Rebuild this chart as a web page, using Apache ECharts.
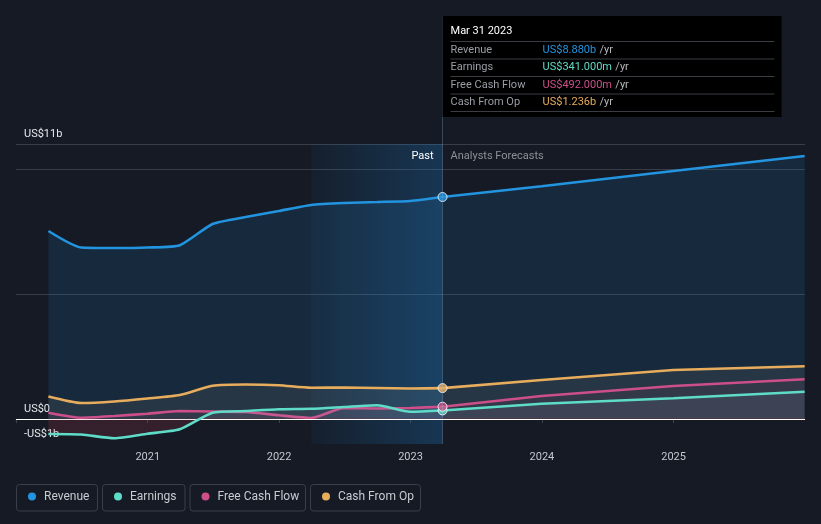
<!DOCTYPE html>
<html><head><meta charset="utf-8">
<script src="https://cdn.jsdelivr.net/npm/echarts@6/dist/echarts.min.js"></script>
<style>html,body{margin:0;padding:0;background:#151a24;}#c{width:821px;height:524px;}</style>
</head><body><div id="c"></div>
<script>
// ---- data (US$ billions) ----
const pastDates = ['2020-03-31','2020-06-30','2020-09-30','2020-12-31','2021-03-31','2021-06-30','2021-09-30','2021-12-31','2022-03-31','2022-06-30','2022-09-30','2022-12-31','2023-03-31'];
const forecastDates = ['2023-12-31','2024-12-31','2025-12-31'];
const revenuePast = [7.52, 6.86, 6.84, 6.86, 6.95, 7.80, 8.08, 8.32, 8.56, 8.64, 8.68, 8.72, 8.88];
const revenueForecast = [9.31, 9.92, 10.52];
const earningsPast = [-0.60, -0.62, -0.77, -0.59, -0.41, 0.25, 0.32, 0.39, 0.41, 0.48, 0.55, 0.29, 0.341];
const earningsForecast = [0.61, 0.83, 1.09];
const fcfPast = [0.25, 0.05, 0.12, 0.21, 0.32, 0.30, 0.28, 0.15, 0.04, 0.44, 0.42, 0.44, 0.492];
const fcfForecast = [0.92, 1.32, 1.59];
const cfoPast = [0.90, 0.64, 0.70, 0.82, 0.96, 1.33, 1.38, 1.35, 1.25, 1.26, 1.24, 1.22, 1.236];
const cfoForecast = [1.56, 1.96, 2.11];
const yTickLabels = {'11': 'US$11b', '0': 'US$0', '-1': '-US$1b'};
const xTickLabels = ['2021', '2022', '2023', '2024', '2025'];
const seriesNames = ['Revenue', 'Earnings', 'Free Cash Flow', 'Cash From Op'];
const pastBandStart = '2022-03-31';

const COLORS = {rev:'#2394df', earn:'#5fdcc8', fcf:'#cc4f8a', cfo:'#e8ad5c'};
const FONT = 'Roboto, "Noto Sans", sans-serif';
const chart = echarts.init(document.getElementById('c'));
const last = pastDates.length - 1;
const lastDate = pastDates[last];

const zeroFrac = 418/524;
const earnArea = new echarts.graphic.LinearGradient(0,0,0,524,[
  {offset:0, color:'rgba(150,175,200,0.09)'},
  {offset:zeroFrac, color:'rgba(150,175,200,0.09)'},
  {offset:zeroFrac, color:'rgba(215,60,85,0.16)'},
  {offset:1, color:'rgba(215,60,85,0.16)'}], true);

function pair(name, color, past, fc, area, z){
  const style = {showSymbol:false, symbol:'none', lineStyle:{color, width:2.6}, itemStyle:{color},
    areaStyle:{color:area, opacity:1}, z, silent:true};
  return [
    Object.assign({type:'line', name, data: pastDates.map((d,i)=>[d, past[i]]), smooth:0.2}, style),
    Object.assign({type:'line', name: name + ' forecast', data: [[lastDate, past[last]]].concat(forecastDates.map((d,i)=>[d, fc[i]])), smooth:false}, style)
  ];
}

const rev = pair(seriesNames[0], COLORS.rev, revenuePast, revenueForecast, 'rgba(35,148,223,0.13)', 2);
rev[0].markArea = {silent:true, itemStyle:{color:new echarts.graphic.LinearGradient(0,0,1,0,[
    {offset:0,color:'rgba(30,130,210,0.05)'},{offset:1,color:'rgba(30,130,210,0.27)'}])},
  data:[[{xAxis:pastBandStart},{xAxis:lastDate}]]};
rev[0].markLine = {silent:true, symbol:'none', label:{show:false}, lineStyle:{color:'#ffffff', width:1.2, type:'solid'},
  data:[{yAxis:0}], animation:false};

const series = [].concat(
  rev,
  pair(seriesNames[3], COLORS.cfo, cfoPast, cfoForecast, 'rgba(190,175,150,0.10)', 3),
  pair(seriesNames[2], COLORS.fcf, fcfPast, fcfForecast, 'rgba(208,80,140,0.07)', 4),
  pair(seriesNames[1], COLORS.earn, earningsPast, earningsForecast, earnArea, 5),
  [{type:'scatter', silent:true, z:10, symbolSize:9,
    itemStyle:{borderColor:'#ffffff', borderWidth:1},
    data:[
      {value:[lastDate, revenuePast[last]], itemStyle:{color:COLORS.rev}},
      {value:[lastDate, cfoPast[last]], itemStyle:{color:COLORS.cfo}},
      {value:[lastDate, earningsPast[last]], itemStyle:{color:COLORS.earn}},
      {value:[lastDate, fcfPast[last]], itemStyle:{color:COLORS.fcf}}
    ]}]
);

const gridColor = '#383d47';
const splitColors = [];
for (let v=-1; v<=11; v++) splitColors.push((v===5||v===10||v===11) ? gridColor : 'rgba(0,0,0,0)');

chart.setOption({
  backgroundColor:'#151a24',
  animation:false,
  textStyle:{fontFamily:FONT},
  grid:{left:16, right:16, top:144, bottom:80},
  xAxis:{type:'time', min:'2020-01-01', max:'2026-01-01', splitNumber:6,
    axisLine:{lineStyle:{color:'#3c424d'}}, axisTick:{show:true, length:4, lineStyle:{color:'#3c424d'}},
    splitLine:{show:false},
    axisLabel:{color:'#c5c9cf', fontSize:11, margin:8, fontFamily:FONT,
      formatter:v=>{const y=String(new Date(v).getFullYear()); return xTickLabels.indexOf(y)>=0 ? y : '';}}},
  yAxis:{type:'value', min:-1, max:11, interval:1,
    axisLine:{show:false}, axisTick:{show:false},
    splitLine:{show:true, lineStyle:{color:splitColors, width:1}},
    axisLabel:{inside:true, margin:8, verticalAlign:'bottom', padding:[0,0,4,0], color:'#e6e8eb', fontSize:11, fontFamily:FONT,
      formatter:v=>yTickLabels[String(v)]||''}},
  series
});

// ---- overlays positioned via the axes ----
const xNow = chart.convertToPixel({gridIndex:0}, [lastDate, 0])[0];
const months = ['Jan','Feb','Mar','Apr','May','Jun','Jul','Aug','Sep','Oct','Nov','Dec'];
const dp = lastDate.split('-');
const title = months[+dp[1]-1] + ' ' + (+dp[2]) + ' ' + dp[0];
const fmt = v => Math.abs(v) >= 1 ? 'US$' + v.toFixed(3) + 'b' : 'US$' + (v*1000).toFixed(3) + 'm';
const rows = [
  [seriesNames[0], fmt(revenuePast[last]), COLORS.rev],
  [seriesNames[1], fmt(earningsPast[last]), COLORS.earn],
  [seriesNames[2], fmt(fcfPast[last]), COLORS.fcf],
  [seriesNames[3], fmt(cfoPast[last]), COLORS.cfo]
];
const g = [];
g.push({type:'line', shape:{x1:xNow, y1:16, x2:xNow, y2:444}, style:{stroke:'rgba(160,190,220,0.28)', lineWidth:1}, z:20, silent:true});
const boxX = xNow, boxY = 16;
g.push({type:'rect', shape:{x:boxX, y:boxY, width:339, height:101}, style:{fill:'#000000'}, z:30, silent:true});
g.push({type:'text', x:boxX+8, y:boxY+15, style:{text:title, fill:'#ffffff', font:'11px '+FONT, textVerticalAlign:'middle'}, z:31});
const sepY = [41, 58.5, 76, 93.5, 111];
sepY.forEach(y=>g.push({type:'line', shape:{x1:boxX+8, y1:y+0.5, x2:boxX+332, y2:y+0.5}, style:{stroke:'#3a3d42', lineWidth:1}, z:31}));
rows.forEach((r,i)=>{
  const cy = (sepY[i]+sepY[i+1])/2;
  g.push({type:'text', x:boxX+8, y:cy, style:{text:r[0], fill:'#9a9ea5', font:'11px '+FONT, textVerticalAlign:'middle'}, z:31});
  g.push({type:'text', x:boxX+100, y:cy, style:{rich:{v:{fill:r[2], font:'11px '+FONT}, u:{fill:'#b5b8bd', font:'11px '+FONT}}, text:'{v|'+r[1]+'} {u|/yr}', textVerticalAlign:'middle'}, z:31});
});
g.push({type:'text', x:xNow-9, y:156, style:{text:'Past', fill:'#ffffff', font:'11px '+FONT, textAlign:'right', textVerticalAlign:'middle'}, z:20});
g.push({type:'text', x:xNow+8, y:156, style:{text:'Analysts Forecasts', fill:'#8c9198', font:'11px '+FONT, textAlign:'left', textVerticalAlign:'middle'}, z:20});

// legend
const legendItems = [[seriesNames[0], COLORS.rev, 81], [seriesNames[1], COLORS.earn, 82.5], [seriesNames[2], COLORS.fcf, 115.5], [seriesNames[3], COLORS.cfo, 110]];
let lx = 16;
legendItems.forEach(it=>{
  g.push({type:'rect', shape:{x:lx+0.5, y:484.5, width:it[2], height:26.5, r:3}, style:{fill:'none', stroke:'#3a404b', lineWidth:1}, z:20});
  g.push({type:'circle', shape:{cx:lx+16, cy:496.5, r:4}, style:{fill:it[1]}, z:20});
  g.push({type:'text', x:lx+28, y:497, style:{text:it[0], fill:'#c8ccd2', font:'12px '+FONT, textVerticalAlign:'middle'}, z:20});
  lx += it[2] + 5;
});
chart.setOption({graphic:g});
</script></body></html>
